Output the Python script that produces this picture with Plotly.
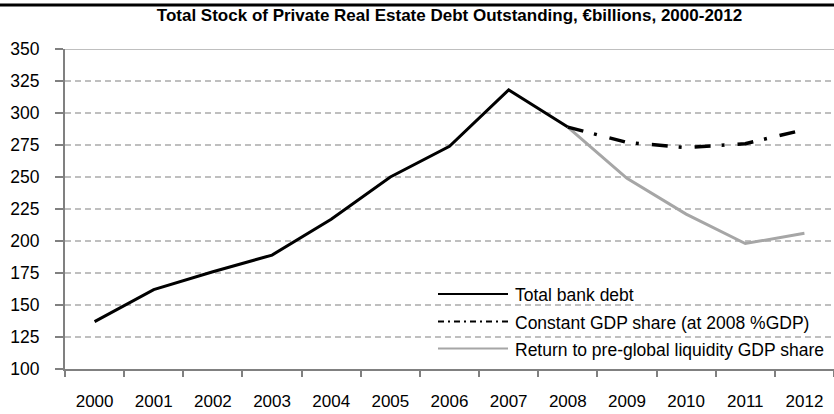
import plotly.graph_objects as go

years = [str(y) for y in range(2000, 2013)]
total_bank_debt = [137, 162, 176, 189, 217, 250, 274, 318, 289, None, None, None, None]
constant_gdp = [None, None, None, None, None, None, None, None, 289, 277, 273, 276, 287]
return_pre = [None, None, None, None, None, None, None, None, 289, 249, 221, 198, 206]
legend_names = ["Total bank debt", "Constant GDP share (at 2008 %GDP)",
                "Return to pre-global liquidity GDP share"]
y_ticks = list(range(100, 351, 25))

FONT = "Liberation Sans, Arial, sans-serif"
DASHDOT = "16px,11px,3px,13px"
GRAY = "#A6A6A6"

W, H = 834, 414
L, R, T, B = 65, 0, 49, 45
pw, ph = W - L - R, H - T - B

def px(x):
    return (x - L) / pw

def py(y):
    return (H - B - y) / ph

fig = go.Figure()
fig.add_trace(go.Scatter(x=years, y=return_pre, mode="lines", name=legend_names[2],
                         line=dict(color=GRAY, width=3), showlegend=False))
fig.add_trace(go.Scatter(x=years, y=constant_gdp, mode="lines", name=legend_names[1],
                         line=dict(color="black", width=3.5, dash=DASHDOT), showlegend=False))
fig.add_trace(go.Scatter(x=years, y=total_bank_debt, mode="lines", name=legend_names[0],
                         line=dict(color="black", width=3), showlegend=False))

shapes = [
    dict(type="line", xref="paper", yref="paper", x0=px(0), x1=px(834), y0=py(5), y1=py(5),
         line=dict(color="black", width=3)),
    dict(type="line", xref="paper", yref="y", x0=0, x1=1, y0=350, y1=350,
         line=dict(color="#BFBFBF", width=2)),
]
annotations = []
legend_styles = [dict(color="black", width=2), dict(color="black", width=2, dash="6px,4px,2px,4px"),
                 dict(color=GRAY, width=2)]
rows_y = [294, 321.5, 348.5]
for name, st, ry in zip(legend_names, legend_styles, rows_y):
    shapes.append(dict(type="line", xref="paper", yref="paper", x0=px(438), x1=px(508),
                       y0=py(ry), y1=py(ry), line=st))
    annotations.append(dict(text=name, xref="paper", yref="paper", x=px(513), y=py(ry + 1),
                            xanchor="left", yanchor="middle", showarrow=False,
                            font=dict(family=FONT, size=17.5, color="black")))

fig.update_layout(
    width=W, height=H,
    margin=dict(l=L, r=R, t=T, b=B, autoexpand=False),
    paper_bgcolor="white", plot_bgcolor="white",
    title=dict(text="<b>Total Stock of Private Real Estate Debt Outstanding, €billions, 2000-2012</b>",
               x=0.5, xref="paper", xanchor="center", y=1 - 15 / H, yanchor="middle",
               font=dict(family=FONT, size=17, color="black")),
    showlegend=False,
    shapes=shapes,
    annotations=annotations,
    xaxis=dict(type="category", range=[-0.5, 12.5], tickson="boundaries", automargin=False,
               ticks="outside", ticklen=6, tickcolor="#808080", tickwidth=2,
               showline=True, linecolor="#808080", linewidth=2, showgrid=False,
               tickfont=dict(family=FONT, size=17, color="black"), ticklabelstandoff=16),
    yaxis=dict(range=[100, 350], tickvals=y_ticks, ticks="outside", ticklen=8, automargin=False,
               tickcolor="#808080", tickwidth=2, showline=True, linecolor="#808080", linewidth=2,
               showgrid=True, gridcolor="#BFBFBF", gridwidth=2, griddash="6px,4px",
               zeroline=False, tickfont=dict(family=FONT, size=17.5, color="black"),
               ticklabelstandoff=12),
)

fig.write_html("out.html")
